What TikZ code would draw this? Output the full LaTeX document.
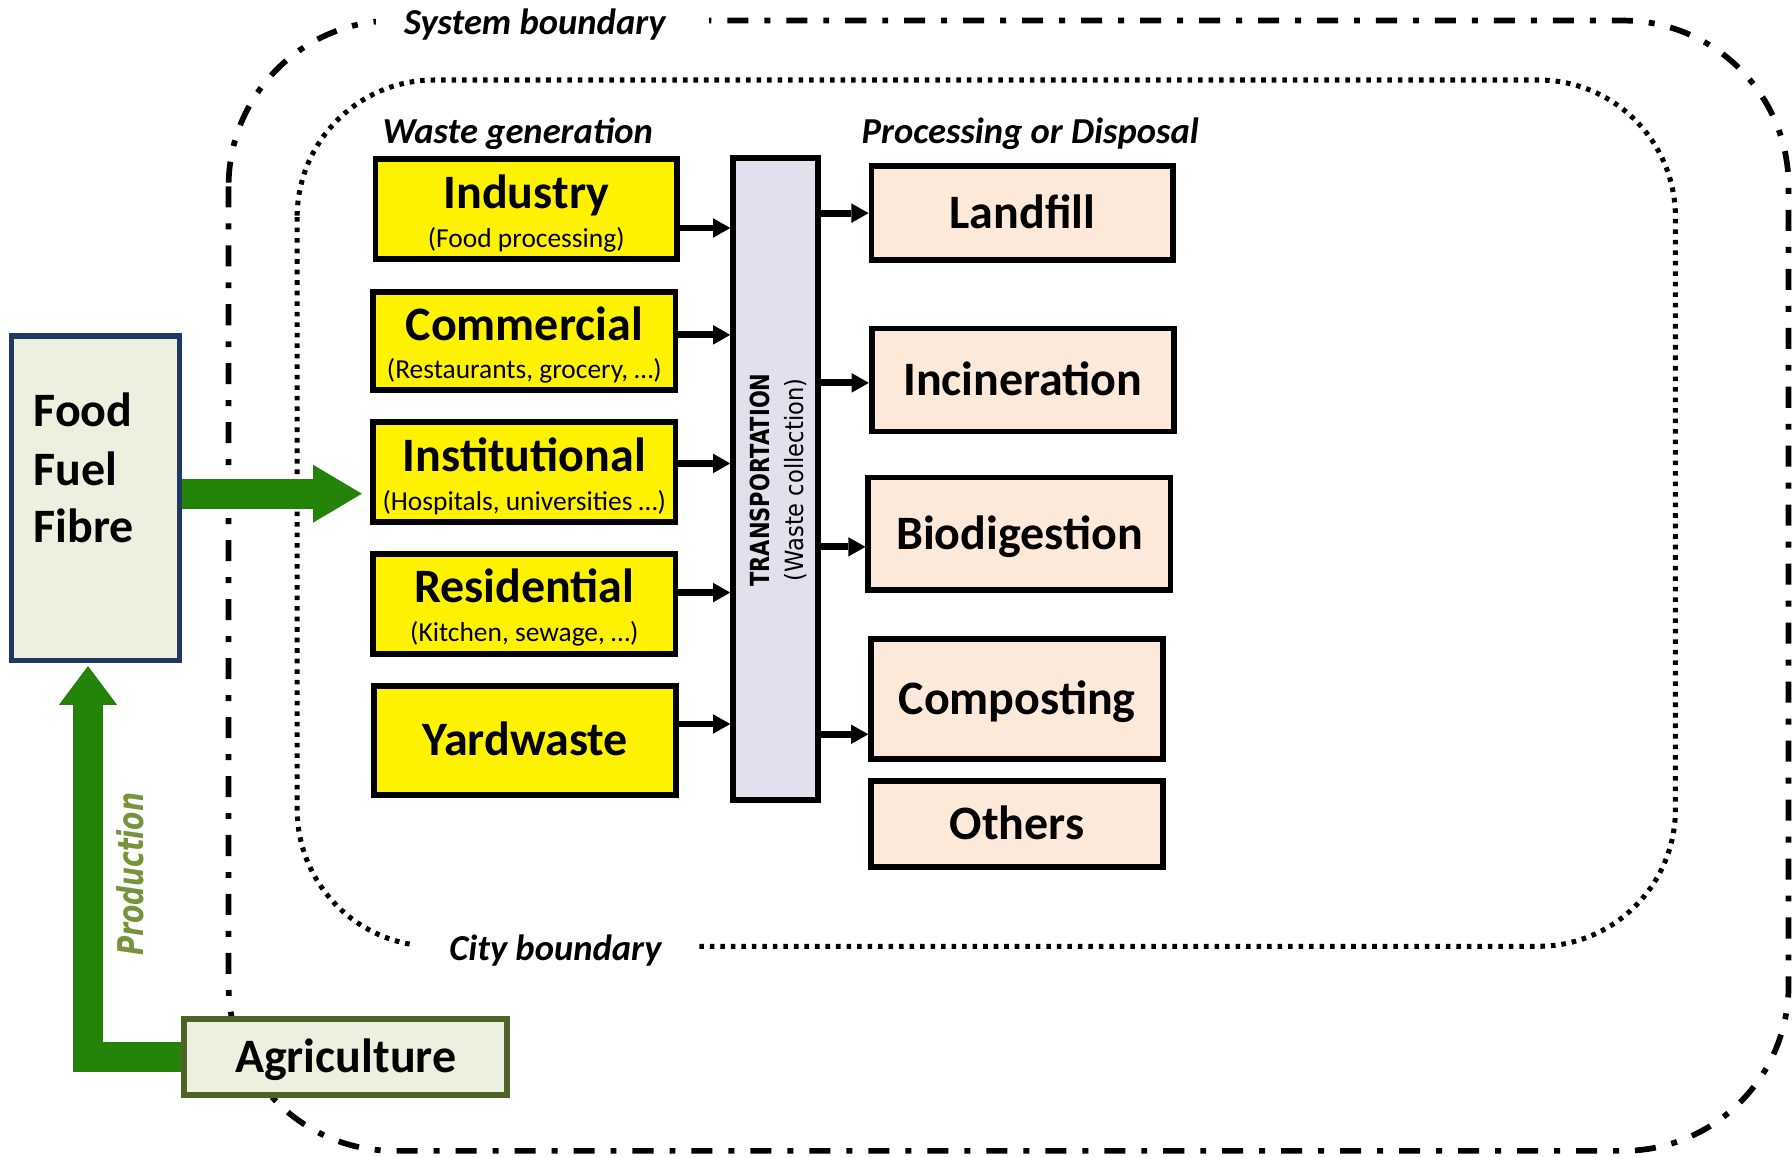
\documentclass[tikz,border=0pt]{standalone}
\usepackage{fontspec}
\usepackage{graphicx}
\setmainfont{Carlito}
\newfontfamily\dejavu{DejaVu Sans}
\usetikzlibrary{arrows.meta}
\pgfdeclarelayer{bg}
\pgfsetlayers{bg,main}
\definecolor{arrowgreen}{RGB}{35,130,8}
\definecolor{prodgreen}{RGB}{119,147,60}
\definecolor{foodfill}{RGB}{235,241,222}
\definecolor{foodborder}{RGB}{31,56,100}
\definecolor{agriborder}{RGB}{79,98,40}
\definecolor{procfill}{RGB}{253,233,217}
\definecolor{transfill}{RGB}{228,223,236}
\newcommand{\bigfont}{\fontsize{21}{25}\selectfont\bfseries}
\newcommand{\smallfont}{\fontsize{12}{14}\selectfont}
\newcommand{\headfont}{\fontsize{16}{19}\selectfont\bfseries\itshape}
\begin{document}
\begin{tikzpicture}[x=0.5pt,y=-0.5pt,
  sysline/.style={line width=2.5pt, dash pattern=on 9.2pt off 7pt on 2.6pt off 7pt, rounded corners=72.5pt},
  cityline/.style={line width=2.2pt, dash pattern=on 2pt off 2.6pt, rounded corners=60pt},
  eraser/.style={fill=white},
  wastebox/.style={draw=black, line width=2.5pt, fill=yellow, inner sep=0pt, font=\bigfont, text height=13.5pt, text depth=0pt},
  procbox/.style={draw=black, line width=2.5pt, fill=procfill, inner sep=0pt, font=\bigfont, text height=13.5pt, text depth=0pt},
  transbox/.style={draw=black, line width=2.5pt, fill=transfill, inner sep=0pt},
  foodbox/.style={draw=foodborder, line width=2.4pt, fill=foodfill, inner sep=0pt},
  agribox/.style={draw=agriborder, line width=2.6pt, fill=foodfill, inner sep=0pt, font=\bigfont, text height=13.5pt, text depth=0pt},
  boxtitle/.style={anchor=base, inner sep=0pt, font=\bigfont},
  boxsub/.style={anchor=base, inner sep=0pt, font=\smallfont},
  foodtext/.style={anchor=base west, inner sep=0pt, font=\bigfont},
  heading/.style={anchor=base, inner sep=0pt, font=\headfont},
  smallarrow/.style={line width=3pt, -{Triangle[length=7.5pt,width=8.5pt,line width=0pt]}},
  greenarrow/.style={draw=arrowgreen, line width=13pt, line join=miter},
]
\useasboundingbox (0,0) rectangle (1568,1011.5);

% helper coordinates
\coordinate (yh) at (0,432);
\coordinate (xv) at (77,0);
\coordinate (y1) at (0,199.5);
\coordinate (y2) at (0,293);
\coordinate (y3) at (0,405.5);
\coordinate (y4) at (0,518.5);
\coordinate (y5) at (0,633.5);
\coordinate (r1) at (0,186.5);
\coordinate (r2) at (0,335);
\coordinate (r3) at (0,478.5);
\coordinate (r4) at (0,642.5);

% Food box
\node[foodbox, minimum width=73.5pt, minimum height=142pt] (food) at (83.5,436) {};
\node[foodtext] (foodt) at (29,373.5) {Food};
\node[foodtext] (fuelt) at (29,424.5) {Fuel};
\node[foodtext] (fibret) at (29,474.5) {Fibre};

% Agriculture
\node[agribox, minimum width=141.5pt, minimum height=33pt] (agri) at (302.5,925) {Agriculture};
\node[rotate=90, inner sep=0pt, text=prodgreen, font=\dejavu\fontsize{15.5}{18}\selectfont\bfseries\itshape] (prod) at (114,765) {\scalebox{0.75}[1]{Production}};

% Waste generation boxes
\node[wastebox, minimum width=132pt, minimum height=43.75pt] (ind) at (460.5,182.75) {};
\node[boxtitle] (indt) at (460.5,182.5) {Industry};
\node[boxsub] (inds) at (460.5,216.5) {(Food processing)};

\node[wastebox, minimum width=132.25pt, minimum height=43pt] (com) at (458.75,298.5) {};
\node[boxtitle] (comt) at (458.75,297.5) {Commercial};
\node[boxsub] (coms) at (458.75,331.5) {(Restaurants, grocery, …)};

\node[wastebox, minimum width=132.25pt, minimum height=44pt] (inst) at (458.75,413) {};
\node[boxtitle] (instt) at (458.75,412.5) {Institutional};
\node[boxsub] (insts) at (458.75,446.5) {(Hospitals, universities …)};

\node[wastebox, minimum width=132.25pt, minimum height=44pt] (res) at (458.75,528.5) {};
\node[boxtitle] (rest) at (458.75,527.5) {Residential};
\node[boxsub] (ress) at (458.75,561.5) {(Kitchen, sewage, …)};

\node[wastebox, minimum width=132pt, minimum height=47.75pt] (yard) at (459.5,647.75) {Yardwaste};

% Transportation
\node[transbox, minimum width=37pt, minimum height=280.75pt] (trans) at (678.5,419.3) {};
\node[rotate=90, inner sep=0pt, font=\dejavu\fontsize{11.5}{14}\selectfont\bfseries] (transt) at (665,420) {\scalebox{0.8}[1]{TRANSPORTATION}};
\node[rotate=90, inner sep=0pt, font=\dejavu\fontsize{11}{14}\selectfont] (wastet) at (696,420) {\scalebox{0.9}[1]{(Waste collection)}};

% Processing boxes
\node[procbox, minimum width=132pt, minimum height=41pt] (land) at (894.5,186.5) {Landfill};
\node[procbox, minimum width=132.25pt, minimum height=45pt] (inc) at (895,332.5) {Incineration};
\node[procbox, minimum width=132.25pt, minimum height=49.25pt] (bio) at (892,467) {Biodigestion};
\node[procbox, minimum width=127.75pt, minimum height=52.5pt] (comp) at (890,611.5) {Composting};
\node[procbox, minimum width=127.75pt, minimum height=37.5pt] (oth) at (890,721) {Others};

% Headings
\node[heading] (sysl) at (468,30.5) {System boundary};
\node[heading] (wgl) at (453,125.5) {Waste generation};
\node[heading] (pdl) at (901.5,125.5) {Processing or Disposal};
\node[heading] (cityl) at (486,840) {City boundary};

% small arrows
\draw[smallarrow] (ind.east |- y1) -- (trans.west |- y1);
\draw[smallarrow] (com.east |- y2) -- (trans.west |- y2);
\draw[smallarrow] (inst.east |- y3) -- (trans.west |- y3);
\draw[smallarrow] (res.east |- y4) -- (trans.west |- y4);
\draw[smallarrow] (yard.east |- y5) -- (trans.west |- y5);
\draw[smallarrow] (trans.east |- r1) -- (land.west |- r1);
\draw[smallarrow] (trans.east |- r2) -- (inc.west |- r2);
\draw[smallarrow] (trans.east |- r3) -- (bio.west |- r3);
\draw[smallarrow] (trans.east |- r4) -- (comp.west |- r4);

\begin{pgfonlayer}{bg}
\draw[sysline] (200,18) rectangle (1565,1007);
\draw[cityline] (260,70) rectangle (1466,828);
\fill[eraser] (329,4) rectangle (620,34);
\fill[eraser] (363,810) rectangle (608,846);
\draw[greenarrow, -{Triangle[length=21.3pt,width=25.3pt,line width=0pt]}, shorten >=3.7pt] (food.east |- yh) -- (inst.west |- yh);
\draw[greenarrow, -{Triangle[length=17pt,width=25.5pt,line width=0pt]}, shorten >=1.2pt] (agri.west) -- (agri.west -| xv) -- (food.south -| xv);
\end{pgfonlayer}
\end{tikzpicture}
\end{document}
